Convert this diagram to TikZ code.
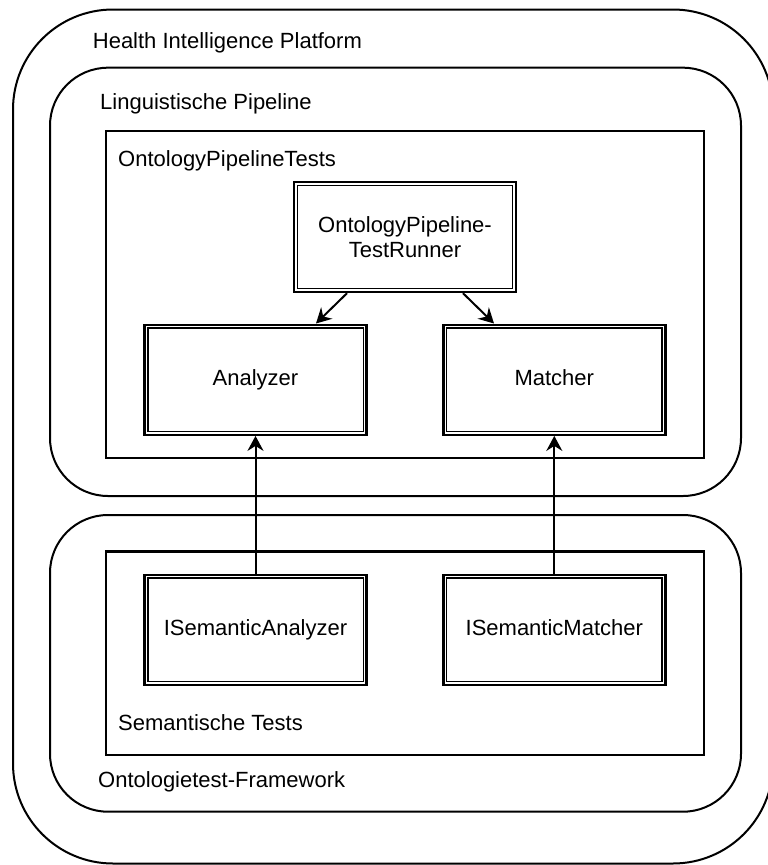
\documentclass[tikz,border=0pt]{standalone}
\usepackage{fontspec}
\setmainfont{Liberation Sans}
\usetikzlibrary{arrows.meta,calc}
\begin{document}
\begin{tikzpicture}[x=1pt,y=-1pt,
  roundframe/.style={draw=black,line width=2pt,rounded corners=#1},
  plainframe/.style={draw=black,line width=2.5pt},
  captiontext/.style={anchor=base west,inner sep=0pt,font=\fontsize{22}{25}\selectfont},
  unitbox/.style={draw=black,line width=2.4pt,minimum width=222pt,minimum height=110pt,
    inner sep=0pt,font=\fontsize{22}{25}\selectfont,align=center},
  oneline/.style={text height=16pt,text depth=5.4pt},
  innerline/.style={draw=black,line width=1.4pt},
  linkarrow/.style={draw=black,line width=2pt,-{Stealth[length=15pt,width=16pt,inset=5pt]}}]
\useasboundingbox (0,0) rectangle (768,865);

% enclosing rounded areas
\draw[roundframe=100pt] (13,9.5) rectangle (773,863.5);
\draw[roundframe=58pt] (50,67.7) rectangle (741,496);
\draw[roundframe=58pt] (50,515) rectangle (741,811.7);

% test groups
\draw[plainframe] (106,131) rectangle (704,458);
\draw[plainframe] (106,551.3) rectangle (704,755);

% area captions
\node[captiontext] (lplatform) at (92.7,48) {Health Intelligence Platform};
\node[captiontext] (lpipeline) at (100,109) {Linguistische Pipeline};
\node[captiontext] (ltests) at (118,166) {OntologyPipelineTests};
\node[captiontext] (lsem) at (118,730) {Semantische Tests};
\node[captiontext] (lframework) at (98,787) {Ontologietest-Framework};

% components
\node[unitbox] (runner) at (405,237) {OntologyPipeline-\\TestRunner};
\node[unitbox,oneline] (analyzer) at (255.5,379.7) {Analyzer};
\node[unitbox,oneline] (matcher) at (554.3,379.7) {Matcher};
\node[unitbox,oneline] (isa) at (255.5,629.7) {ISemanticAnalyzer};
\node[unitbox,oneline] (ism) at (554.3,629.7) {ISemanticMatcher};

% second line of the double borders
\foreach \n in {runner,analyzer,matcher,isa,ism}
  \draw[innerline] ([shift={(4.5pt,4.5pt)}]\n.south west) rectangle ([shift={(-4.5pt,-4.5pt)}]\n.north east);

% dependencies
\draw[linkarrow] ($(runner.south)+(-58pt,0)$) -- ($(analyzer.north)+(60.5pt,0)$);
\draw[linkarrow] ($(runner.south)+(58pt,0)$) -- ($(matcher.north)+(-60.3pt,0)$);
\draw[linkarrow] (isa.north) -- (analyzer.south);
\draw[linkarrow] (ism.north) -- (matcher.south);
\end{tikzpicture}
\end{document}
